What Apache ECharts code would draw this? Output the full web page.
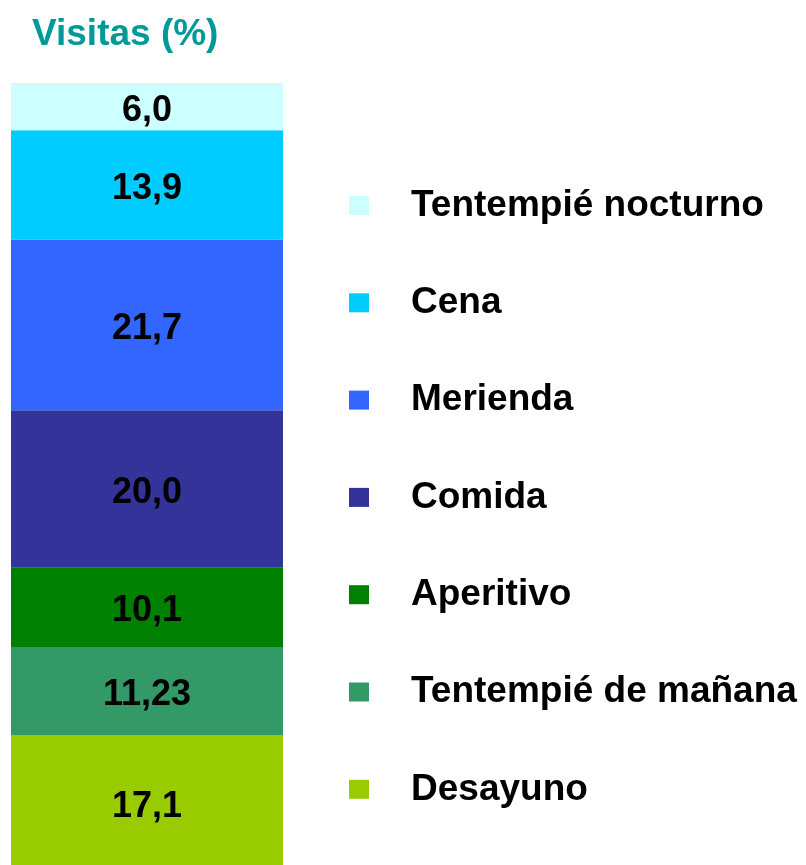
<!DOCTYPE html>
<html>
<head>
<meta charset="utf-8">
<script src="https://cdn.jsdelivr.net/npm/echarts@6/dist/echarts.min.js"></script>
<style>
  html, body { margin: 0; padding: 0; background: #fff; }
  #main { width: 806px; height: 865px; }
</style>
</head>
<body>
<div id="main"></div>
<script>
// categorías, de abajo hacia arriba en la barra
var categories = ['Desayuno', 'Tentempié de mañana', 'Aperitivo', 'Comida', 'Merienda', 'Cena', 'Tentempié nocturno'];
// visitas (%)
var values = [17.1, 11.23, 10.1, 20.0, 21.7, 13.9, 6.0];
// etiquetas tal como aparecen
var labels = ['17,1', '11,23', '10,1', '20,0', '21,7', '13,9', '6,0'];
var colors = ['#99CC00', '#339966', '#008000', '#333399', '#3366FF', '#00CCFF', '#CCFFFF'];

var font = 'Liberation Sans, Arial, sans-serif';

// total de la barra para el eje
var total = 0;
for (var i = 0; i < values.length; i++) total += values[i];

var series = [];
for (var i = 0; i < categories.length; i++) {
    series.push({
        name: categories[i],
        type: 'bar',
        stack: 'visitas',
        barWidth: '100%',
        data: [values[i]],
        itemStyle: { color: colors[i] },
        label: {
            show: true,
            position: 'inside',
            offset: [0, 4],
            formatter: labels[i],
            color: '#000',
            fontFamily: font,
            fontWeight: 'bold',
            fontSize: 36
        }
    });
}

var myChart = echarts.init(document.getElementById('main'));

var option = {
    animation: false,
    title: {
        text: 'Visitas (%)',
        left: 32,
        top: 16,
        padding: 0,
        textStyle: {
            color: '#009999',
            fontFamily: font,
            fontWeight: 'bold',
            fontSize: 37
        }
    },
    legend: {
        orient: 'vertical',
        left: 349,
        top: 187,
        padding: 0,
        itemWidth: 20,
        itemHeight: 19,
        itemGap: 60.3,
        icon: 'rect',
        selectedMode: false,
        data: categories.slice().reverse(),
        textStyle: {
            color: '#000',
            fontFamily: font,
            fontWeight: 'bold',
            fontSize: 37,
            lineHeight: 36,
            padding: [0, 0, 0, 37]
        }
    },
    grid: {
        left: 11,
        top: 83,
        width: 272,
        height: 787,
        outerBoundsMode: 'none'
    },
    xAxis: {
        type: 'category',
        data: [''],
        show: false
    },
    yAxis: {
        type: 'value',
        min: 0,
        max: total,
        show: false
    },
    series: series
};

myChart.setOption(option);
</script>
</body>
</html>
